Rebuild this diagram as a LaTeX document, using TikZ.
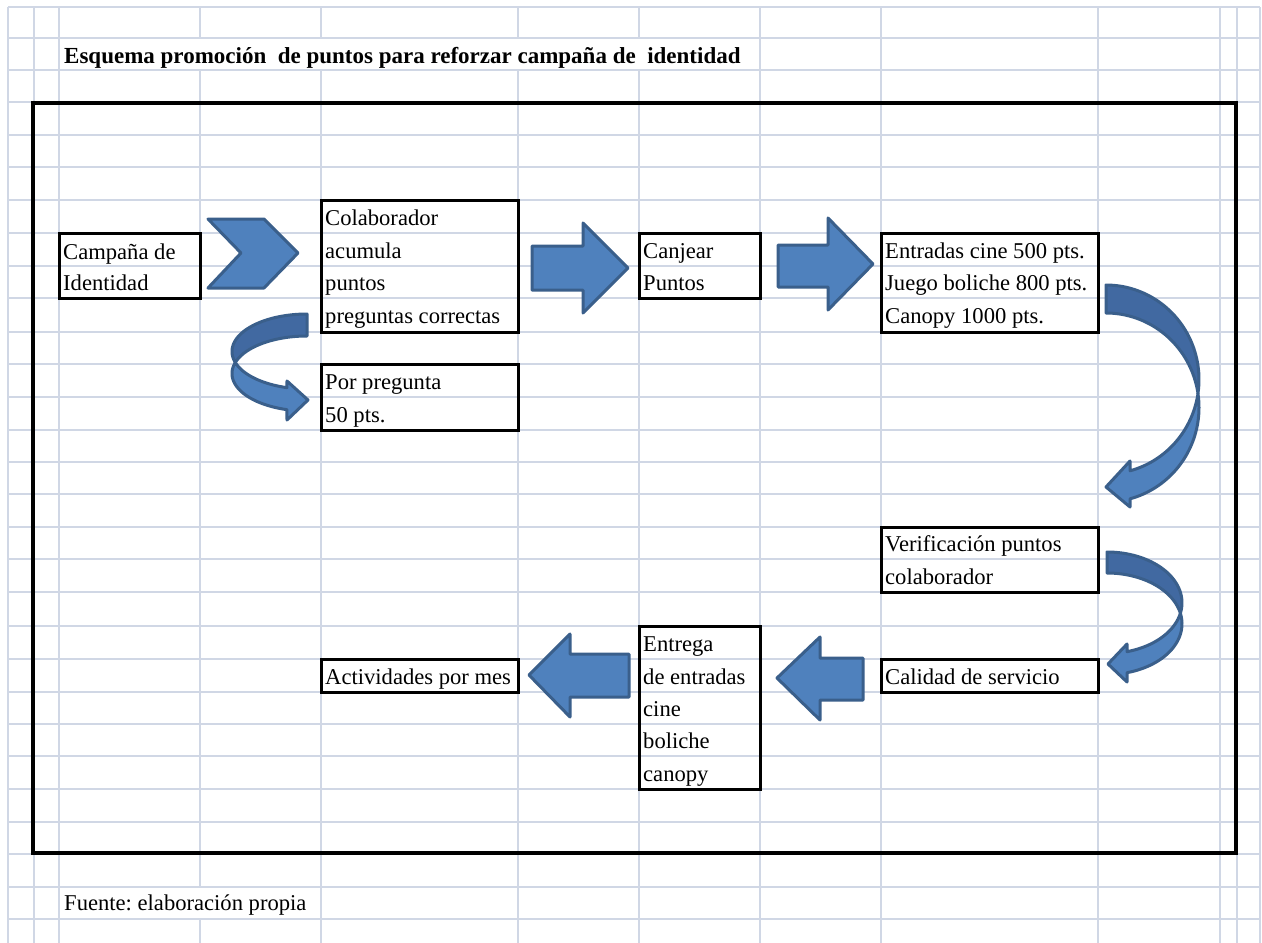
\documentclass[tikz,border=0pt]{standalone}
\usepackage{fontspec}
\setmainfont{Liberation Serif}
\frenchspacing
\definecolor{gridc}{HTML}{D0D7E5}
\definecolor{afill}{HTML}{4F81BD}
\definecolor{aline}{HTML}{3A5F8B}
\definecolor{aback}{HTML}{4169A1}
\tikzset{
  gridline/.style={draw=gridc, line width=1.3pt},
  frame/.style={draw=black, line width=4pt},
  box/.style={draw=black, line width=3pt, inner sep=0pt, outer sep=0pt, rectangle},
  txt/.style={anchor=base west, inner sep=0pt, font=\fontsize{22.6}{27}\selectfont},
  ttl/.style={anchor=base west, inner sep=0pt, font=\fontsize{23}{27}\selectfont\bfseries},
  blockarrow/.style={fill=afill, draw=aline, line width=3pt, line join=round},
  backpart/.style={fill=aback, draw=aline, line width=3pt, line join=round},
}
\newcommand{\bx}[5]{\node[box, minimum width={#4-#2}, minimum height={#5-#3}] (#1) at ({(#2+#4)/2},{(#3+#5)/2}) {};}
\begin{document}
\begin{tikzpicture}[x=1pt, y=-1pt]
\useasboundingbox[fill=white] (0,0) rectangle (1262,943);
% grid
\foreach \y in {7,38,70,102,135,167,200,233,266,298,332,364,397,430,462,494,527,559,592,626,659,692,724,756,789,822,854,887,919}
  \draw[gridline] (8,\y) -- (1260,\y);
\foreach \x in {8,34,59,760,881,1098,1220,1237,1260}
  \draw[gridline] (\x,7) -- (\x,943);
\foreach \x in {321,518,639}
  \draw[gridline] (\x,7) -- (\x,38) (\x,70) -- (\x,943);
\draw[gridline] (200,7) -- (200,38) (200,70) -- (200,887) (200,919) -- (200,943);
% frame
\draw[frame] (33,103) rectangle (1236,852.5);
% title
\node[ttl] (title) at (64,63) {Esquema promoción\ \ de puntos para reforzar campaña de\ \ identidad};
% boxes
\bx{campana}{59}{233}{200}{298}
\bx{colab}{321}{200}{518}{332}
\bx{porpreg}{321}{364}{518}{430}
\bx{canjear}{639}{233}{760}{298}
\bx{entradas}{881}{233}{1098}{332}
\bx{verif}{881}{527}{1098}{592}
\bx{calidad}{881}{659}{1098}{692}
\bx{entrega}{639}{626}{760}{789}
\bx{activ}{321}{659}{518}{692}
% texts
\node[txt] (t1a) at (63,259) {Campaña de};
\node[txt] (t1b) at (63,290) {Identidad};
\node[txt] (t2a) at (325,225) {Colaborador};
\node[txt] (t2b) at (325,258) {acumula};
\node[txt] (t2c) at (325,290) {puntos};
\node[txt] (t2d) at (325,323) {preguntas correctas};
\node[txt] (t3a) at (325,389) {Por pregunta};
\node[txt] (t3b) at (325,422) {50 pts.};
\node[txt] (t4a) at (643,258) {Canjear};
\node[txt] (t4b) at (643,290) {Puntos};
\node[txt] (t5a) at (885,258) {Entradas cine 500 pts.};
\node[txt] (t5b) at (885,290) {Juego boliche 800 pts.};
\node[txt] (t5c) at (885,323) {Canopy 1000 pts.};
\node[txt] (t6a) at (885,551) {Verificación puntos};
\node[txt] (t6b) at (885,584) {colaborador};
\node[txt] (t7) at (885,684) {Calidad de servicio};
\node[txt] (t8a) at (643,651) {Entrega};
\node[txt] (t8b) at (643,684) {de entradas};
\node[txt] (t8c) at (643,716) {cine};
\node[txt] (t8d) at (643,748) {boliche};
\node[txt] (t8e) at (643,781) {canopy};
\node[txt] (t9) at (325,684) {Actividades por mes};
\node[txt] (src) at (64,910) {Fuente: elaboración propia};
% chevron
\draw[blockarrow] (208,219) -- (264,219) -- (298,253) -- (264,288) -- (208,288) -- (241,253) -- cycle;
% block arrows
\draw[blockarrow] (532,246) -- (583,246) -- (583,223) -- (628,268) -- (583,313) -- (583,290) -- (532,290) -- cycle;
\draw[blockarrow] (778,245) -- (828,245) -- (828,218) -- (873,264) -- (828,310) -- (828,287) -- (778,287) -- cycle;
\draw[blockarrow] (863,658) -- (820,658) -- (820,637) -- (777,678) -- (820,720) -- (820,700) -- (863,700) -- cycle;
\draw[blockarrow] (629,654) -- (570,654) -- (570,634) -- (529,675) -- (570,717) -- (570,697) -- (629,697) -- cycle;
% curved arrow F (left of colab)
\draw[backpart] plot[domain=270:162.95, samples=40] ({307+75*cos(\x)},{351.5+37.5*sin(\x)})
  -- plot[domain=197.05:270, samples=40] ({307+75*cos(\x)},{373.5+37.5*sin(\x)}) -- cycle;
\draw[blockarrow] plot[domain=197.05:105.5, samples=40] ({307+75*cos(\x)},{373.5+37.5*sin(\x)})
  -- (287,420) -- (308,400) -- (287,381)
  -- plot[domain=105.5:162.95, samples=30] ({307+75*cos(\x)},{351.5+37.5*sin(\x)}) -- cycle;
% curved arrow G (right of entradas)
\draw[backpart] plot[domain=-90:8.5, samples=40] ({1106+93*cos(\x)},{379.5+94.5*sin(\x)})
  -- plot[domain=-8.5:-90, samples=40] ({1106+93*cos(\x)},{407.5+94.5*sin(\x)}) -- cycle;
\draw[blockarrow] plot[domain=-8.5:75, samples=40] ({1106+93*cos(\x)},{407.5+94.5*sin(\x)})
  -- (1130,507) -- (1106,487) -- (1130,461)
  -- plot[domain=75:8.5, samples=40] ({1106+93*cos(\x)},{379.5+94.5*sin(\x)}) -- cycle;
% curved arrow H (right of verif)
\draw[backpart] plot[domain=-90:11.94, samples=40] ({1107+75*cos(\x)},{602.75+50.75*sin(\x)})
  -- plot[domain=-11.94:-90, samples=40] ({1107+75*cos(\x)},{623.75+50.75*sin(\x)}) -- cycle;
\draw[blockarrow] plot[domain=-11.94:74.5, samples=40] ({1107+75*cos(\x)},{623.75+50.75*sin(\x)})
  -- (1127,682) -- (1108,664) -- (1127,644)
  -- plot[domain=74.5:11.94, samples=40] ({1107+75*cos(\x)},{602.75+50.75*sin(\x)}) -- cycle;
\end{tikzpicture}
\end{document}
